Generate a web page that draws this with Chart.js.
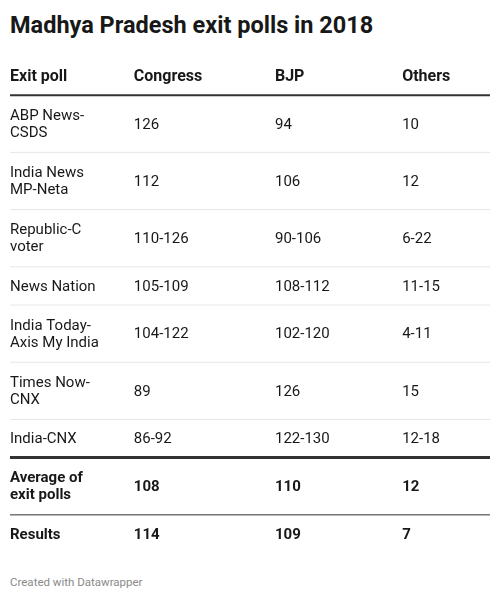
<!DOCTYPE html>
<html>
<head>
<meta charset="utf-8">
<script src="https://cdn.jsdelivr.net/npm/chart.js@4"></script>
<style>
    body { margin: 0; background: #fff; font-family: Roboto, "Noto Sans", sans-serif; color: #181818; }
    #title { position: absolute; left: 10px; top: 11px; margin: 0; font-size: 23.5px; font-weight: 700; }
    #tableBox { position: absolute; left: 10px; top: 57px; width: 480px; height: 496px; }
    #footer { position: absolute; left: 10px; top: 575px; font-size: 11.5px; color: #8a8a8a; }
</style>
</head>
<body>
<h1 id="title">Madhya Pradesh exit polls in 2018</h1>
<div id="tableBox"><canvas id="pollTable"></canvas></div>
<div id="footer">Created with Datawrapper</div>
<script>
const columns = ["Exit poll", "Congress", "BJP", "Others"];
const pollsters = [
    "ABP News-\nCSDS",
    "India News\nMP-Neta",
    "Republic-C\nvoter",
    "News Nation",
    "India Today-\nAxis My India",
    "Times Now-\nCNX",
    "India-CNX",
];
const congress = [126, 112, [110, 126], [105, 109], [104, 122], 89, [86, 92]];
const bjp = [94, 106, [90, 106], [108, 112], [102, 120], 126, [122, 130]];
const others = [10, 12, [6, 22], [11, 15], [4, 11], 15, [12, 18]];
const summaryLabels = ["Average of\nexit polls", "Results"];
const summaryCongress = [108, 114];
const summaryBjp = [110, 109];
const summaryOthers = [12, 7];

// layout: column starts as % of table width
const colStart = [0, 25.8, 55.2, 81.7];
const lineHeight = 17;
const textColor = "#181818";

function fmt(v) {
    return Array.isArray(v) ? v[0] + "-" + v[1] : String(v);
}

// build rows: header, poll rows, summary rows
const rows = [];
rows.push({ cells: columns, bold: true, size: 16, lineBelow: "header" });
pollsters.forEach(function (name, i) {
    rows.push({
        cells: [name, fmt(congress[i]), fmt(bjp[i]), fmt(others[i])],
        bold: false,
        size: 15,
        lineBelow: i === pollsters.length - 1 ? "thick" : "light",
    });
});
summaryLabels.forEach(function (name, i) {
    rows.push({
        cells: [name, fmt(summaryCongress[i]), fmt(summaryBjp[i]), fmt(summaryOthers[i])],
        bold: true,
        size: 15,
        lineBelow: i === 0 ? "dark" : null,
    });
});
// row height in units: number of text lines + 1
let total = 0;
rows.forEach(function (r) {
    r.lines = Math.max.apply(null, r.cells.map((c) => c.split("\n").length));
    r.top = total;
    total += r.lines + 1;
    r.bottom = total;
});

const tablePlugin = {
    id: "tableText",
    afterDraw: function (chart) {
        const ctx = chart.ctx;
        const x = chart.scales.x;
        const y = chart.scales.y;
        ctx.save();
        rows.forEach(function (r) {
            const yTop = y.getPixelForValue(r.top);
            const yBot = y.getPixelForValue(r.bottom);
            const mid = (yTop + yBot) / 2;
            ctx.fillStyle = textColor;
            ctx.textBaseline = "middle";
            ctx.textAlign = "left";
            ctx.font = (r.bold ? "bold " : "") + r.size + "px Roboto";
            r.cells.forEach(function (cell, ci) {
                const parts = cell.split("\n");
                const cx = x.getPixelForValue(colStart[ci]);
                parts.forEach(function (p, pi) {
                    const ly = mid + (pi - (parts.length - 1) / 2) * lineHeight;
                    ctx.fillText(p, cx, ly + 1);
                });
            });
            if (r.lineBelow) {
                let w = 1, c = "#e6e6e6";
                if (r.lineBelow === "header") { w = 2; c = "#333333"; }
                if (r.lineBelow === "thick") { w = 3; c = "#333333"; }
                if (r.lineBelow === "dark") { w = 1; c = "#333333"; }
                ctx.strokeStyle = c;
                ctx.lineWidth = w;
                ctx.beginPath();
                ctx.moveTo(x.getPixelForValue(0), yBot);
                ctx.lineTo(x.getPixelForValue(100), yBot);
                ctx.stroke();
            }
        });
        ctx.restore();
    },
};

new Chart(document.getElementById("pollTable").getContext("2d"), {
    type: "line",
    data: { datasets: [] },
    options: {
        responsive: true,
        maintainAspectRatio: false,
        animation: false,
        layout: { padding: 0 },
        plugins: { legend: { display: false }, tooltip: { enabled: false } },
        scales: {
            x: { type: "linear", min: 0, max: 100, display: false },
            y: { type: "linear", min: 0, max: total, reverse: true, display: false },
        },
    },
    plugins: [tablePlugin],
});
</script>
</body>
</html>
